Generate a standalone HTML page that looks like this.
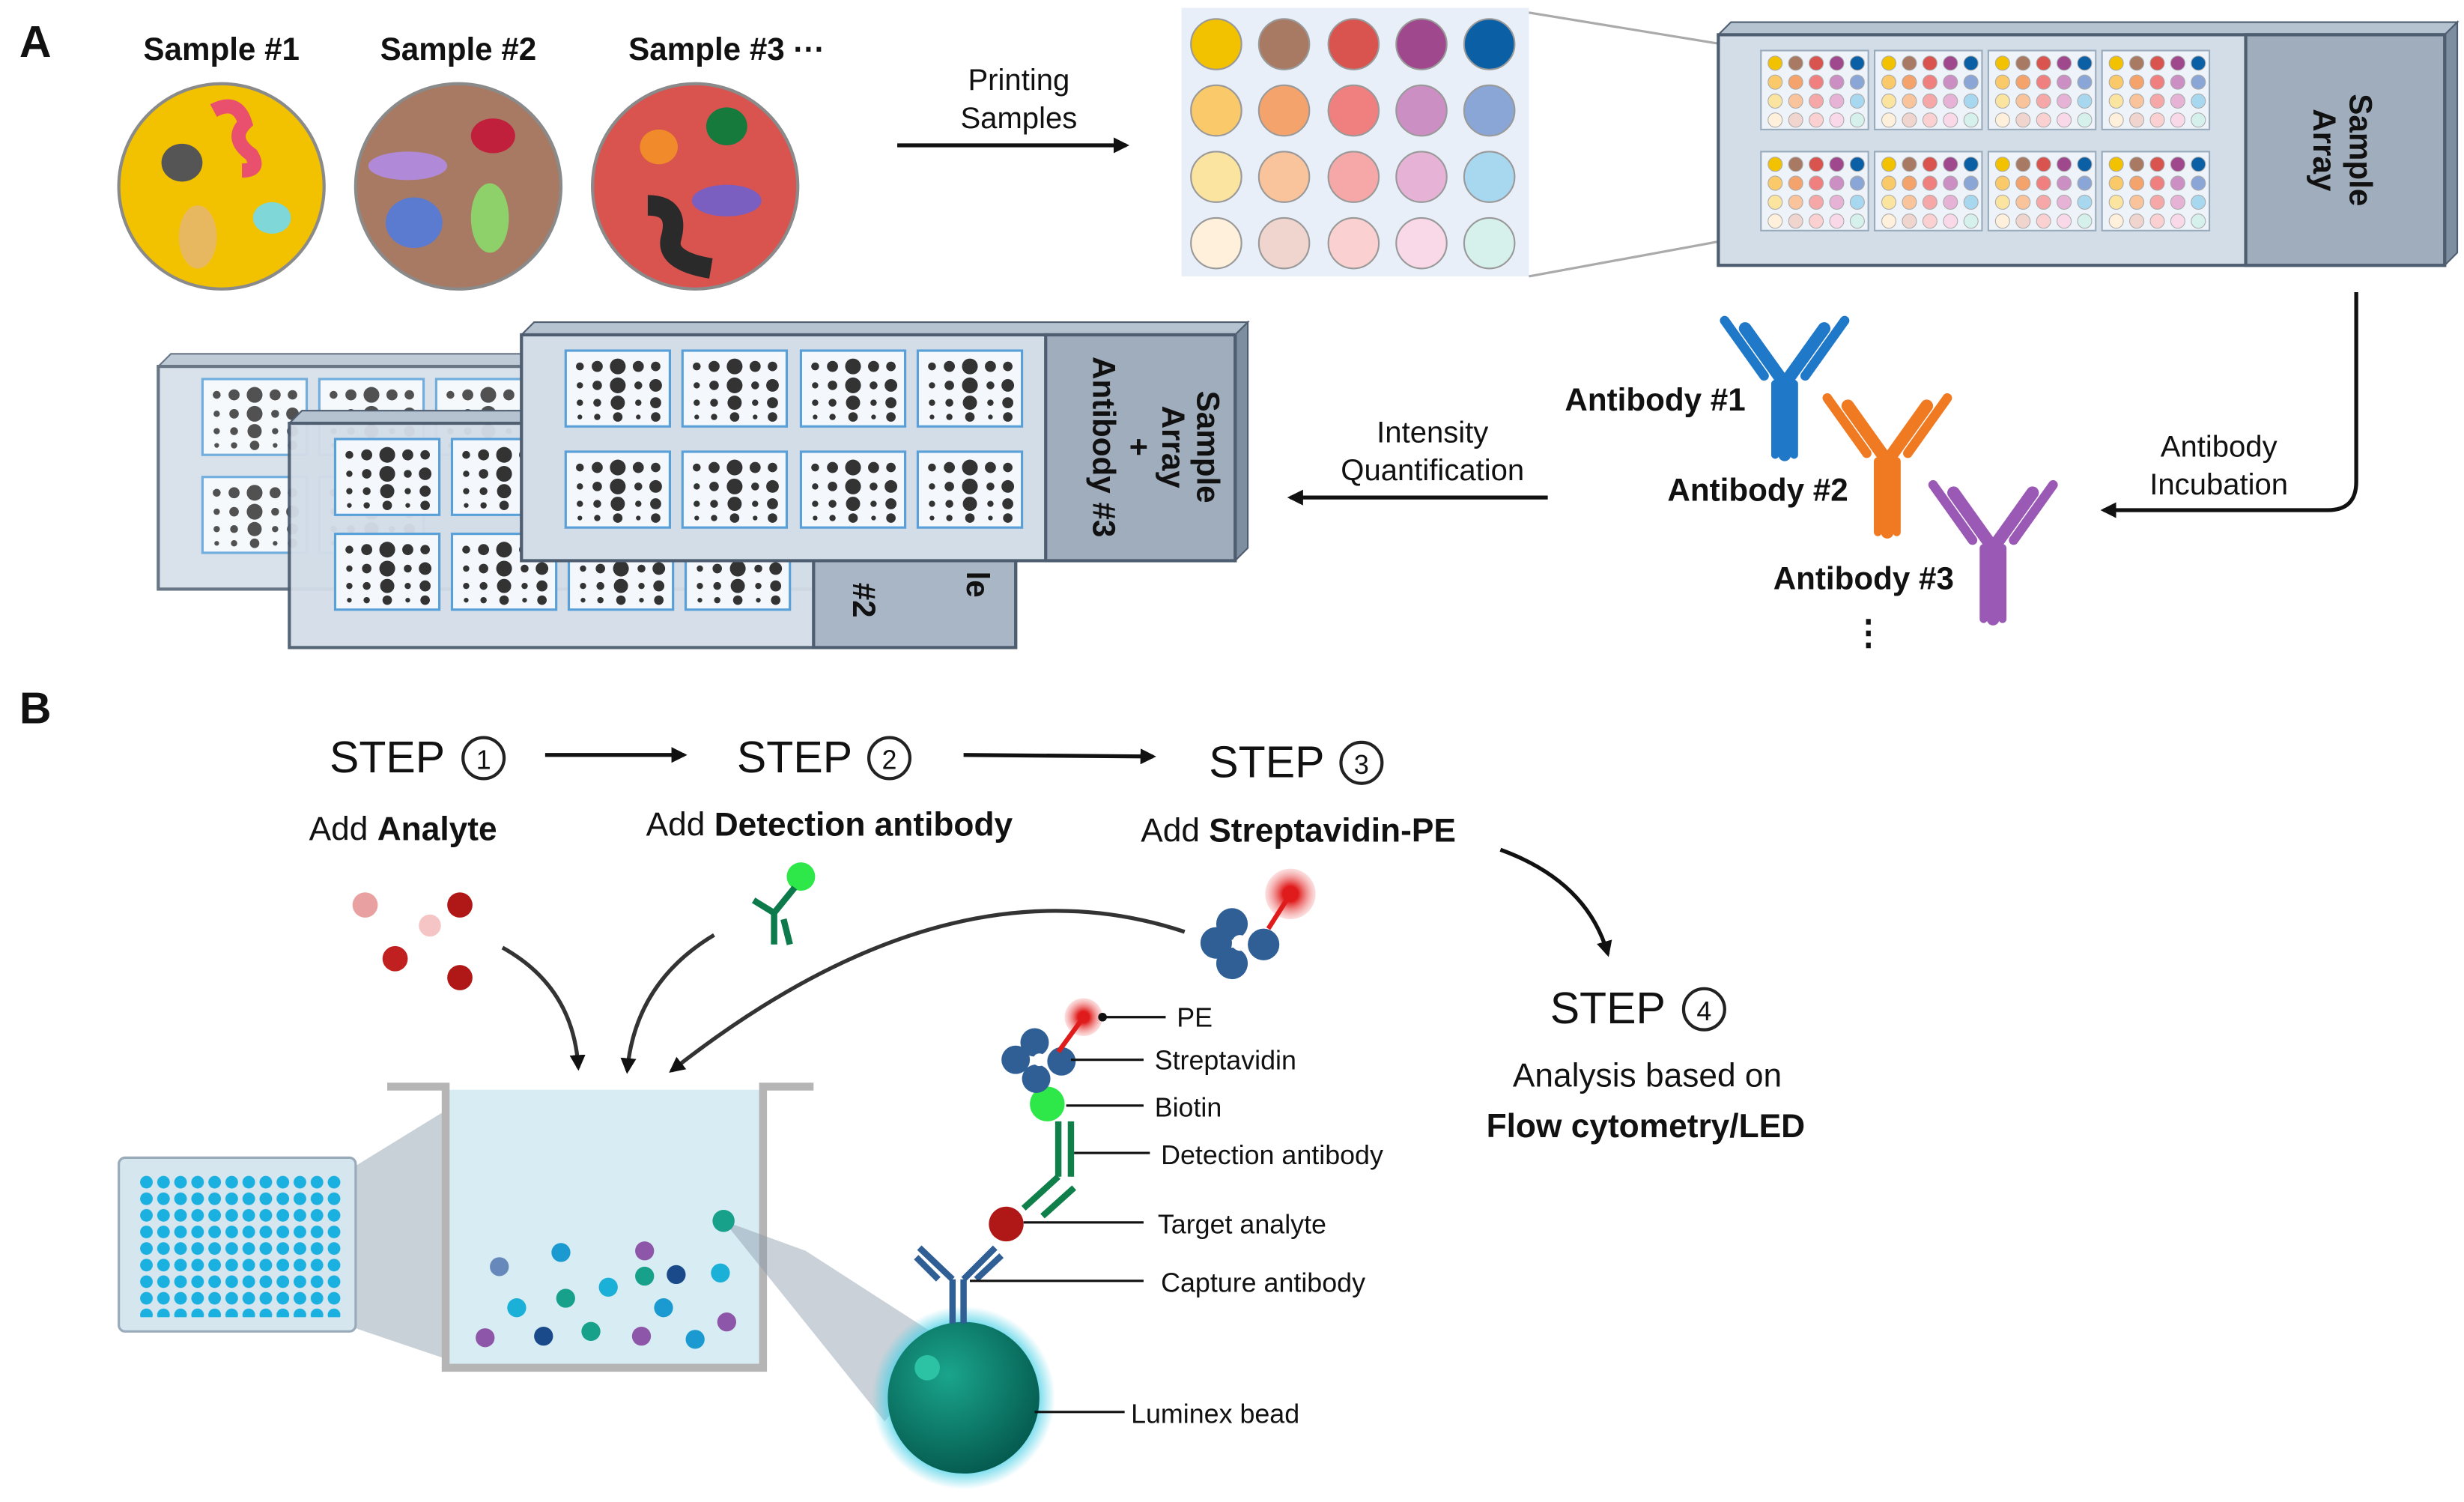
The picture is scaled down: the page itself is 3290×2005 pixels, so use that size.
<!DOCTYPE html>
<html><head><meta charset="utf-8"><style>
html,body{margin:0;padding:0;background:#fff}
svg{display:block}
text{font-family:"Liberation Sans",sans-serif;fill:#111}
.b{font-weight:bold}
</style></head><body>
<svg width="3290" height="2005" viewBox="0 0 1560 951" xmlns="http://www.w3.org/2000/svg">
<defs>
<marker id="ah" markerWidth="10" markerHeight="10" refX="8" refY="5" orient="auto" markerUnits="userSpaceOnUse"><path d="M0,0 L10,5 L0,10 Z" fill="#111"/></marker>
<radialGradient id="bead" cx="0.4" cy="0.35" r="0.7"><stop offset="0" stop-color="#1aa58c"/><stop offset="1" stop-color="#04584d"/></radialGradient>
<radialGradient id="glow"><stop offset="0.75" stop-color="#48d0e6"/><stop offset="1" stop-color="#48d0e6" stop-opacity="0"/></radialGradient>
<radialGradient id="pe"><stop offset="0.3" stop-color="#e01b1b"/><stop offset="1" stop-color="#f7b0b0" stop-opacity="0.4"/></radialGradient>
<g id="dg">
<rect x="0" y="0" width="66" height="48" fill="#f4f8fc" stroke="#5aa0d8" stroke-width="1.5"/>
<g fill="#333">
<circle cx="9" cy="10" r="2.5"/><circle cx="20" cy="10" r="3.5"/><circle cx="33" cy="10" r="5"/><circle cx="46" cy="10" r="3.5"/><circle cx="57" cy="10" r="3"/>
<circle cx="9" cy="22" r="2"/><circle cx="20" cy="22" r="3"/><circle cx="33" cy="22" r="5"/><circle cx="46" cy="22" r="2.5"/><circle cx="57" cy="22" r="4"/>
<circle cx="9" cy="33" r="2"/><circle cx="20" cy="33" r="2.5"/><circle cx="33" cy="33" r="4.5"/><circle cx="46" cy="33" r="2"/><circle cx="57" cy="33" r="3.5"/>
<circle cx="9" cy="42" r="1.5"/><circle cx="20" cy="42" r="2"/><circle cx="33" cy="42" r="3"/><circle cx="46" cy="42" r="1.5"/><circle cx="57" cy="42" r="3"/>
</g></g>
<g id="ab" fill="none" stroke-width="8" stroke-linecap="round">
<path d="M0,0 V-45 M0,-45 L-25,-80 M0,-45 L25,-80"/>
<path d="M-13,-50 L-38,-85 M13,-50 L38,-85" stroke-width="6"/>
<path d="M-6,0 V-45 M6,0 V-45" stroke-width="5"/>
</g>
<pattern id="pw" x="88" y="744" width="10.8" height="10.5" patternUnits="userSpaceOnUse"><circle cx="4.5" cy="4.5" r="4" fill="#1ab0e0"/></pattern>
</defs>

<text x="12" y="36" class="b" font-size="28">A</text>
<text x="12" y="458" class="b" font-size="28">B</text>

<text x="140" y="38" class="b" font-size="20" text-anchor="middle">Sample #1</text>
<text x="290" y="38" class="b" font-size="20" text-anchor="middle">Sample #2</text>
<text x="460" y="38" class="b" font-size="20" text-anchor="middle">Sample #3 ···</text>
<circle cx="140" cy="118" r="65" fill="#f2c200" stroke="#8a8a8a" stroke-width="2"/>
<circle cx="290" cy="118" r="65" fill="#a97a63" stroke="#8a8a8a" stroke-width="2"/>
<circle cx="440" cy="118" r="65" fill="#d9534f" stroke="#8a8a8a" stroke-width="2"/>
<ellipse cx="115" cy="103" rx="13" ry="12" fill="#555"/>
<path d="M135,70 q15,-8 20,8 q-10,10 4,20 q6,10 -6,10" stroke="#e8506e" stroke-width="9" fill="none"/>
<ellipse cx="125" cy="150" rx="12" ry="20" fill="#e8b860"/>
<ellipse cx="172" cy="138" rx="12" ry="10" fill="#7fd7d7"/>
<ellipse cx="258" cy="105" rx="25" ry="9" fill="#b08ad8"/>
<ellipse cx="312" cy="86" rx="14" ry="11" fill="#c0203c"/>
<ellipse cx="262" cy="141" rx="18" ry="16" fill="#5a7bd0"/>
<ellipse cx="310" cy="138" rx="12" ry="22" fill="#8ed06a"/>
<ellipse cx="417" cy="93" rx="12" ry="11" fill="#f08a2a"/>
<ellipse cx="460" cy="80" rx="13" ry="12" fill="#157a3c"/>
<ellipse cx="460" cy="127" rx="22" ry="10" fill="#7a5fc0"/>
<path d="M410,130 q20,0 15,20 q-5,15 25,20" stroke="#2a2a2a" stroke-width="13" fill="none"/>

<text x="645" y="57" font-size="19" text-anchor="middle">Printing</text>
<text x="645" y="81" font-size="19" text-anchor="middle">Samples</text>
<line x1="568" y1="92" x2="713" y2="92" stroke="#111" stroke-width="2.5" marker-end="url(#ah)"/>

<rect x="748" y="5" width="220" height="170" fill="#e8eff8"/>
<g stroke="#999" stroke-width="1">
<circle cx="770" cy="28" r="16" fill="#f2c200"/><circle cx="813" cy="28" r="16" fill="#a97a63"/><circle cx="857" cy="28" r="16" fill="#d9534f"/><circle cx="900" cy="28" r="16" fill="#a0488e"/><circle cx="943" cy="28" r="16" fill="#0b5fa5"/>
<circle cx="770" cy="70" r="16" fill="#f9c96a"/><circle cx="813" cy="70" r="16" fill="#f4a36c"/><circle cx="857" cy="70" r="16" fill="#f07f7f"/><circle cx="900" cy="70" r="16" fill="#cc8fc4"/><circle cx="943" cy="70" r="16" fill="#8aa6d6"/>
<circle cx="770" cy="112" r="16" fill="#fbe3a0"/><circle cx="813" cy="112" r="16" fill="#f9c49c"/><circle cx="857" cy="112" r="16" fill="#f6a8a8"/><circle cx="900" cy="112" r="16" fill="#e6b3d6"/><circle cx="943" cy="112" r="16" fill="#a8d8f0"/>
<circle cx="770" cy="154" r="16" fill="#fff0dc"/><circle cx="813" cy="154" r="16" fill="#f0d5cf"/><circle cx="857" cy="154" r="16" fill="#fad0d0"/><circle cx="900" cy="154" r="16" fill="#f9d8e8"/><circle cx="943" cy="154" r="16" fill="#d6f0ec"/>
</g>
<line x1="968" y1="8" x2="1115" y2="32" stroke="#aaa" stroke-width="1.5"/>
<line x1="968" y1="175" x2="1115" y2="148" stroke="#aaa" stroke-width="1.5"/>

<path d="M1088,22 l8,-8 h460 l-8,8 z" fill="#b5c2d0" stroke="#4e5e70"/>
<path d="M1548,22 l8,-8 v146 l-8,8 z" fill="#7d8ea0" stroke="#4e5e70"/>
<rect x="1088" y="22" width="460" height="146" fill="#d3dde8" stroke="#4e5e70" stroke-width="2"/>
<rect x="1422" y="22" width="126" height="146" fill="#9fadbd" stroke="#4e5e70" stroke-width="2"/>
<text transform="translate(1488,95) rotate(90)" class="b" font-size="20" text-anchor="middle" fill="#222">Sample</text>
<text transform="translate(1465,95) rotate(90)" class="b" font-size="20" text-anchor="middle" fill="#222">Array</text>
<g id="mg">
<rect x="1115" y="32" width="68" height="50" fill="#eef3f9" stroke="#9ab"/>
<g stroke="#aaa" stroke-width=".5">
<circle cx="1124" cy="40" r="4.5" fill="#f2c200"/><circle cx="1137" cy="40" r="4.5" fill="#a97a63"/><circle cx="1150" cy="40" r="4.5" fill="#d9534f"/><circle cx="1163" cy="40" r="4.5" fill="#a0488e"/><circle cx="1176" cy="40" r="4.5" fill="#0b5fa5"/>
<circle cx="1124" cy="52" r="4.5" fill="#f9c96a"/><circle cx="1137" cy="52" r="4.5" fill="#f4a36c"/><circle cx="1150" cy="52" r="4.5" fill="#f07f7f"/><circle cx="1163" cy="52" r="4.5" fill="#cc8fc4"/><circle cx="1176" cy="52" r="4.5" fill="#8aa6d6"/>
<circle cx="1124" cy="64" r="4.5" fill="#fbe3a0"/><circle cx="1137" cy="64" r="4.5" fill="#f9c49c"/><circle cx="1150" cy="64" r="4.5" fill="#f6a8a8"/><circle cx="1163" cy="64" r="4.5" fill="#e6b3d6"/><circle cx="1176" cy="64" r="4.5" fill="#a8d8f0"/>
<circle cx="1124" cy="76" r="4.5" fill="#fff0dc"/><circle cx="1137" cy="76" r="4.5" fill="#f0d5cf"/><circle cx="1150" cy="76" r="4.5" fill="#fad0d0"/><circle cx="1163" cy="76" r="4.5" fill="#f9d8e8"/><circle cx="1176" cy="76" r="4.5" fill="#d6f0ec"/>
</g></g>
<use href="#mg" x="72"/><use href="#mg" x="144"/><use href="#mg" x="216"/>
<use href="#mg" y="64"/><use href="#mg" x="72" y="64"/><use href="#mg" x="144" y="64"/><use href="#mg" x="216" y="64"/>

<path d="M1492,185 V305 q0,18 -18,18 H1332" fill="none" stroke="#111" stroke-width="2.5" marker-end="url(#ah)"/>
<text x="1405" y="289" font-size="19" text-anchor="middle">Antibody</text>
<text x="1405" y="313" font-size="19" text-anchor="middle">Incubation</text>

<g stroke="#1f78c8"><use href="#ab" x="1130" y="288"/></g>
<g stroke="#f07a22"><use href="#ab" x="1195" y="337"/></g>
<g stroke="#9b59b6"><use href="#ab" x="1262" y="392"/></g>
<text x="1048" y="260" class="b" font-size="20" text-anchor="middle">Antibody #1</text>
<text x="1113" y="317" class="b" font-size="20" text-anchor="middle">Antibody #2</text>
<text x="1180" y="373" class="b" font-size="20" text-anchor="middle">Antibody #3</text>
<text x="1183" y="408" class="b" font-size="22" text-anchor="middle">⋮</text>

<text x="907" y="280" font-size="19" text-anchor="middle">Intensity</text>
<text x="907" y="304" font-size="19" text-anchor="middle">Quantification</text>
<line x1="980" y1="315" x2="817" y2="315" stroke="#111" stroke-width="2.5" marker-end="url(#ah)"/>

<g opacity="0.85">
<path d="M100,232 l8,-8 h440 l-8,8 z" fill="#b5c2d0" stroke="#4e5e70"/>
<rect x="100" y="232" width="440" height="141" fill="#d3dde8" stroke="#4e5e70" stroke-width="2"/>
<use href="#dg" x="128" y="240"/><use href="#dg" x="202" y="240"/><use href="#dg" x="276" y="240"/>
<use href="#dg" x="128" y="302"/><use href="#dg" x="202" y="302"/>
</g>
<path d="M183,268 l8,-8 h460 l-8,8 z" fill="#b5c2d0" stroke="#4e5e70"/>
<rect x="183" y="268" width="460" height="142" fill="#d3dde8" stroke="#4e5e70" stroke-width="2" opacity="0.95"/>
<rect x="515" y="268" width="128" height="142" fill="#a9b6c5" stroke="#4e5e70" stroke-width="2"/>
<text transform="translate(540,380) rotate(90)" class="b" font-size="20" text-anchor="middle">#2</text>
<text transform="translate(612,370) rotate(90)" class="b" font-size="20" text-anchor="middle">le</text>
<use href="#dg" x="212" y="278"/><use href="#dg" x="286" y="278"/>
<use href="#dg" x="212" y="338"/><use href="#dg" x="286" y="338"/><use href="#dg" x="360" y="338"/><use href="#dg" x="434" y="338"/>
<path d="M330,212 l8,-8 h452 l-8,8 z" fill="#b5c2d0" stroke="#4e5e70"/>
<path d="M782,212 l8,-8 v143 l-8,8 z" fill="#7d8ea0" stroke="#4e5e70"/>
<rect x="330" y="212" width="452" height="143" fill="#d3dde8" stroke="#4e5e70" stroke-width="2"/>
<rect x="662" y="212" width="120" height="143" fill="#9fadbd" stroke="#4e5e70" stroke-width="2"/>
<text transform="translate(758,283) rotate(90)" class="b" font-size="20" text-anchor="middle">Sample</text>
<text transform="translate(736,283) rotate(90)" class="b" font-size="20" text-anchor="middle">Array</text>
<text transform="translate(714,283) rotate(90)" class="b" font-size="20" text-anchor="middle">+</text>
<text transform="translate(692,283) rotate(90)" class="b" font-size="20" text-anchor="middle">Antibody #3</text>
<use href="#dg" x="358" y="222"/><use href="#dg" x="432" y="222"/><use href="#dg" x="507" y="222"/><use href="#dg" x="581" y="222"/>
<use href="#dg" x="358" y="286"/><use href="#dg" x="432" y="286"/><use href="#dg" x="507" y="286"/><use href="#dg" x="581" y="286"/>

<text x="245" y="489" font-size="28" text-anchor="middle">STEP</text><circle cx="306" cy="480" r="13" fill="none" stroke="#222" stroke-width="2"/><text x="306" y="487" font-size="17" text-anchor="middle">1</text>
<text x="255" y="532" font-size="21" text-anchor="middle">Add <tspan class="b">Analyte</tspan></text>
<line x1="345" y1="478" x2="433" y2="478" stroke="#111" stroke-width="2.5" marker-end="url(#ah)"/>
<text x="503" y="489" font-size="28" text-anchor="middle">STEP</text><circle cx="563" cy="480" r="13" fill="none" stroke="#222" stroke-width="2"/><text x="563" y="487" font-size="17" text-anchor="middle">2</text>
<text x="525" y="529" font-size="21" text-anchor="middle">Add <tspan class="b">Detection antibody</tspan></text>
<line x1="610" y1="478" x2="730" y2="479" stroke="#111" stroke-width="2.5" marker-end="url(#ah)"/>
<text x="802" y="492" font-size="28" text-anchor="middle">STEP</text><circle cx="862" cy="483" r="13" fill="none" stroke="#222" stroke-width="2"/><text x="862" y="490" font-size="17" text-anchor="middle">3</text>
<text x="822" y="533" font-size="21" text-anchor="middle">Add <tspan class="b">Streptavidin-PE</tspan></text>
<path d="M950,538 q55,20 68,66" fill="none" stroke="#111" stroke-width="2.5" marker-end="url(#ah)"/>
<text x="1018" y="648" font-size="28" text-anchor="middle">STEP</text><circle cx="1079" cy="639" r="13" fill="none" stroke="#222" stroke-width="2"/><text x="1079" y="646" font-size="17" text-anchor="middle">4</text>
<text x="1043" y="688" font-size="21" text-anchor="middle">Analysis based on</text>
<text x="1042" y="720" font-size="21" class="b" text-anchor="middle">Flow cytometry/LED</text>

<circle cx="231" cy="573" r="8" fill="#e8a0a0"/><circle cx="291" cy="573" r="8" fill="#b01818"/><circle cx="272" cy="586" r="7" fill="#f5c5c5"/><circle cx="250" cy="607" r="8" fill="#c02020"/><circle cx="291" cy="619" r="8" fill="#b01818"/>
<circle cx="507" cy="555" r="9" fill="#2ee84a"/>
<path d="M503,562 L490,578 M490,578 L477,570 M490,578 L490,598 M496,582 L500,598" stroke="#0c7a4a" stroke-width="4" fill="none"/>
<circle cx="817" cy="566" r="16" fill="url(#pe)"/><line x1="817" y1="566" x2="803" y2="588" stroke="#e01b1b" stroke-width="3"/>
<g fill="#2f5f95"><circle cx="780" cy="585" r="10"/><circle cx="800" cy="598" r="10"/><circle cx="780" cy="610" r="10"/><circle cx="770" cy="597" r="10"/></g>
<circle cx="785" cy="597" r="5" fill="#fff"/>

<path d="M318,600 q45,25 48,76" fill="none" stroke="#333" stroke-width="2.5" marker-end="url(#ah)"/>
<path d="M452,592 q-50,30 -55,86" fill="none" stroke="#333" stroke-width="2.5" marker-end="url(#ah)"/>
<path d="M750,590 q-150,-50 -325,88" fill="none" stroke="#333" stroke-width="2.5" marker-end="url(#ah)"/>

<path d="M222,740 L287,700 L287,862 L222,840 Z" fill="#9aaab8" opacity="0.55"/>
<rect x="75" y="733" width="150" height="110" rx="4" fill="#d6e6ef" stroke="#9ab" stroke-width="1.5"/>
<rect x="88" y="744" width="130" height="90" fill="url(#pw)"/>
<rect x="283" y="690" width="198" height="174" fill="#d8ecf3"/>
<path d="M245,688 H282 V866 H483 V688 H515" fill="none" stroke="#b5b5b5" stroke-width="5"/>
<path d="M458,773 L510,792 L600,850 L560,900 Z" fill="#8a9aa8" opacity="0.45"/>
<g>
<circle cx="316" cy="802" r="6" fill="#6688bb"/><circle cx="355" cy="793" r="6" fill="#1a9ad0"/><circle cx="408" cy="792" r="6" fill="#8e56a8"/><circle cx="458" cy="773" r="7" fill="#17a08a"/>
<circle cx="385" cy="815" r="6" fill="#1ab0d8"/><circle cx="408" cy="808" r="6" fill="#17a08a"/><circle cx="428" cy="807" r="6" fill="#1a4a8a"/><circle cx="456" cy="806" r="6" fill="#1ab0d8"/>
<circle cx="327" cy="828" r="6" fill="#1ab0d8"/><circle cx="358" cy="822" r="6" fill="#17a08a"/><circle cx="420" cy="828" r="6" fill="#1a9ad0"/><circle cx="460" cy="837" r="6" fill="#8e56a8"/>
<circle cx="307" cy="847" r="6" fill="#8e56a8"/><circle cx="344" cy="846" r="6" fill="#1a4a8a"/><circle cx="374" cy="843" r="6" fill="#17a08a"/><circle cx="406" cy="846" r="6" fill="#8e56a8"/><circle cx="440" cy="848" r="6" fill="#1a9ad0"/>
</g>

<circle cx="610" cy="885" r="58" fill="url(#glow)"/>
<circle cx="610" cy="885" r="48" fill="url(#bead)"/>
<circle cx="587" cy="866" r="8" fill="#2cc2a4"/>
<path d="M603,838 V810 M610,838 V810 M603,810 L582,790 M610,810 L630,790 M594,810 L580,796 M618,810 L634,795" stroke="#2f5f95" stroke-width="4" fill="none"/>
<circle cx="637" cy="775" r="11" fill="#b01818"/>
<path d="M648,765 L670,745 M660,770 L680,752 M670,745 V710 M678,745 V710" stroke="#10804a" stroke-width="4" fill="none"/>
<circle cx="663" cy="699" r="11" fill="#2ee84a"/>
<g fill="#2f5f95"><circle cx="655" cy="660" r="9"/><circle cx="672" cy="672" r="9"/><circle cx="656" cy="683" r="9"/><circle cx="643" cy="671" r="9"/></g>
<circle cx="658" cy="671" r="4" fill="#fff"/>
<circle cx="686" cy="644" r="12" fill="url(#pe)"/><line x1="686" y1="644" x2="670" y2="666" stroke="#e01b1b" stroke-width="3"/>
<g stroke="#111" stroke-width="1.5">
<line x1="698" y1="644" x2="738" y2="644"/><circle cx="698" cy="644" r="2" fill="#111"/>
<line x1="678" y1="671" x2="724" y2="671"/>
<line x1="675" y1="700" x2="724" y2="700"/>
<line x1="680" y1="730" x2="728" y2="730"/>
<line x1="648" y1="774" x2="724" y2="774"/>
<line x1="614" y1="811" x2="724" y2="811"/>
<line x1="655" y1="894" x2="712" y2="894"/>
</g>
<text x="745" y="650" font-size="17">PE</text>
<text x="731" y="677" font-size="17">Streptavidin</text>
<text x="731" y="707" font-size="17">Biotin</text>
<text x="735" y="737" font-size="17">Detection antibody</text>
<text x="733" y="781" font-size="17">Target analyte</text>
<text x="735" y="818" font-size="17">Capture antibody</text>
<text x="716" y="901" font-size="17">Luminex bead</text>
</svg>
</body></html>
